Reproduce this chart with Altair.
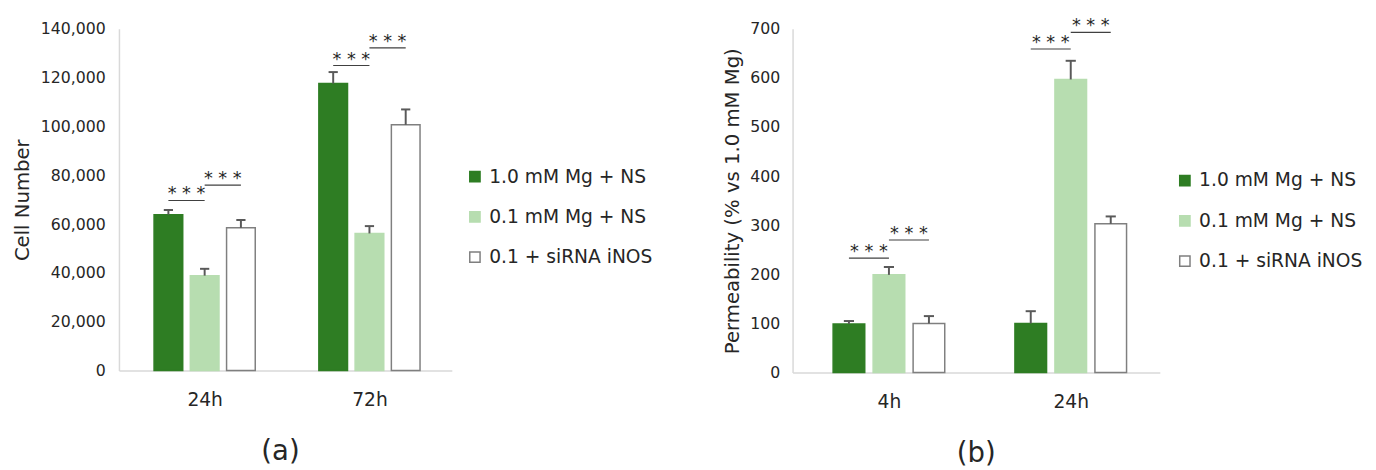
import altair as alt
import pandas as pd

# ---------------- data ----------------
SERIES = ["1.0 mM Mg + NS", "0.1 mM Mg + NS", "0.1 + siRNA iNOS"]

A_CATS = ["24h", "72h"]
A_MEAN_HI = [63900, 117600]
A_MEAN_LO = [38900, 56200]
A_MEAN_SI = [58500, 100700]
A_ERR_HI = [1900, 4700]
A_ERR_LO = [2800, 3000]
A_ERR_SI = [3200, 6300]
A_YTICKS = [0, 20000, 40000, 60000, 80000, 100000, 120000, 140000]
A_SIG_GROUP = [0, 0, 1, 1]
A_SIG_FROM = [0, 1, 0, 1]
A_SIG_TO = [1, 2, 1, 2]
A_SIG_Y = [69700, 76000, 125000, 132200]
A_SIG_TEXT = ["***", "***", "***", "***"]

B_CATS = ["4h", "24h"]
B_MEAN_HI = [99, 100]
B_MEAN_LO = [199, 597]
B_MEAN_SI = [100, 303]
B_ERR_HI = [6, 25]
B_ERR_LO = [16, 38]
B_ERR_SI = [15, 15]
B_YTICKS = [0, 100, 200, 300, 400, 500, 600, 700]
B_SIG_GROUP = [0, 0, 1, 1]
B_SIG_FROM = [0, 1, 0, 1]
B_SIG_TO = [1, 2, 1, 2]
B_SIG_Y = [233, 270, 659, 693]
B_SIG_TEXT = ["***", "***", "***", "***"]

# ---------------- style ----------------
FONT = "DejaVu Sans"
TXT = "#262626"
AXC = "#d9d9d9"
FILLS = ["#2e7d23", "#b7ddb0", "#ffffff"]
STROKES = ["#2e7d23", "#b7ddb0", "#7f7f7f"]
ERRC = "#595959"
OFFSET = 0.22   # distance between bar centres, in group units
HALF = 0.087    # half bar width
CAP = 0.028     # half cap width


def panel(cats, means, errs, sig_group, sig_from, sig_to, sig_y, sig_text,
          yticks, ytitle, width, height, xdomain, label_pad, title_pad,
          legend_xy, ptitle, pdx):
    rows = []
    for j, s in enumerate(SERIES):
        for i, c in enumerate(cats):
            pos = i + (j - 1) * OFFSET
            rows.append(dict(series=s, pos=pos, lo=pos - HALF, hi=pos + HALF,
                             value=means[j][i], upper=means[j][i] + errs[j][i],
                             cap_lo=pos - CAP, cap_hi=pos + CAP, zero=0))
    df = pd.DataFrame(rows)
    srows = []
    for g, f, t, y, tx in zip(sig_group, sig_from, sig_to, sig_y, sig_text):
        x1 = g + (f - 1) * OFFSET
        x2 = g + (t - 1) * OFFSET
        srows.append(dict(x1=x1, x2=x2, xm=(x1 + x2) / 2, y=y,
                          label=" ".join(list(tx))))
    sdf = pd.DataFrame(srows)

    label_expr = "[" + ",".join("'" + c + "'" for c in cats) + "][datum.value]"
    xscale = alt.Scale(domain=xdomain, nice=False, zero=False)
    xaxis = alt.Axis(values=list(range(len(cats))), labelExpr=label_expr,
                     labelFont=FONT, labelFontSize=19, labelColor=TXT,
                     labelPadding=21, ticks=False, tickSize=0, grid=False,
                     domainColor=AXC, domainWidth=1.5, labelFlush=False)
    yscale = alt.Scale(domain=[yticks[0], yticks[-1]], nice=False)
    yaxis = alt.Axis(values=yticks, format=",.0f", labelFont=FONT,
                     labelFontSize=16, labelColor=TXT, labelPadding=label_pad,
                     ticks=False, tickSize=0, grid=False, domainColor=AXC,
                     domainWidth=1.5, titleFont=FONT, titleFontSize=20,
                     titleFontWeight="normal", titleColor=TXT,
                     titlePadding=title_pad)

    def X(f):
        return alt.X(f + ":Q", scale=xscale, axis=xaxis, title=None)

    def Y(f):
        return alt.Y(f + ":Q", scale=yscale, axis=yaxis, title=ytitle)

    legend = alt.Legend(title=None, orient="none", legendX=legend_xy[0],
                        legendY=legend_xy[1], symbolType="square",
                        symbolSize=110, symbolStrokeWidth=1.5,
                        labelFont=FONT, labelFontSize=19, labelColor=TXT,
                        labelOffset=5, rowPadding=21, padding=0,
                        labelLimit=400)

    bars = alt.Chart(df).mark_rect(strokeWidth=1.5).encode(
        x=X("lo"), x2="hi", y=Y("value"), y2="zero",
        fill=alt.Fill("series:N", scale=alt.Scale(domain=SERIES, range=FILLS),
                      legend=legend),
        stroke=alt.Stroke("series:N",
                          scale=alt.Scale(domain=SERIES, range=STROKES),
                          legend=legend),
    )
    stems = alt.Chart(df).mark_rule(color=ERRC, strokeWidth=2).encode(
        x=X("pos"), y=Y("value"), y2="upper")
    caps = alt.Chart(df).mark_rule(color=ERRC, strokeWidth=2).encode(
        x=X("cap_lo"), x2="cap_hi", y=Y("upper"))
    slines = alt.Chart(sdf).mark_rule(color="#404040", strokeWidth=1.2).encode(
        x=X("x1"), x2="x2", y=Y("y"))
    stars = alt.Chart(sdf).mark_text(font=FONT, fontSize=18, color=TXT,
                                     baseline="alphabetic", align="center",
                                     dy=-1).encode(
        x=X("xm"), y=Y("y"), text="label:N")

    return alt.layer(bars, stems, caps, slines, stars).properties(
        width=width, height=height,
        title=alt.TitleParams(ptitle, orient="bottom", fontSize=28, font=FONT,
                              fontWeight="normal", color=TXT, offset=29,
                              dx=pdx),
    )


pa = panel(A_CATS, [A_MEAN_HI, A_MEAN_LO, A_MEAN_SI],
           [A_ERR_HI, A_ERR_LO, A_ERR_SI],
           A_SIG_GROUP, A_SIG_FROM, A_SIG_TO, A_SIG_Y, A_SIG_TEXT,
           A_YTICKS, "Cell Number", 339, 348, [-0.52, 1.5], 14, 8,
           (353, 141), "(a)", -5)

pb = panel(B_CATS, [B_MEAN_HI, B_MEAN_LO, B_MEAN_SI],
           [B_ERR_HI, B_ERR_LO, B_ERR_SI],
           B_SIG_GROUP, B_SIG_FROM, B_SIG_TO, B_SIG_Y, B_SIG_TEXT,
           B_YTICKS, "Permeability (% vs 1.0 mM Mg)", 374, 350, [-0.53, 1.49],
           13, 8, (390, 145), "(b)", 0)

chart = alt.hconcat(pa, pb, spacing=70).resolve_scale(
    fill="independent", stroke="independent"
).properties(
    padding={"left": 4, "top": 5, "right": 5, "bottom": 0}
).configure_view(stroke=None)

chart.save("out.html", embed_options={"renderer": "svg", "actions": False})
